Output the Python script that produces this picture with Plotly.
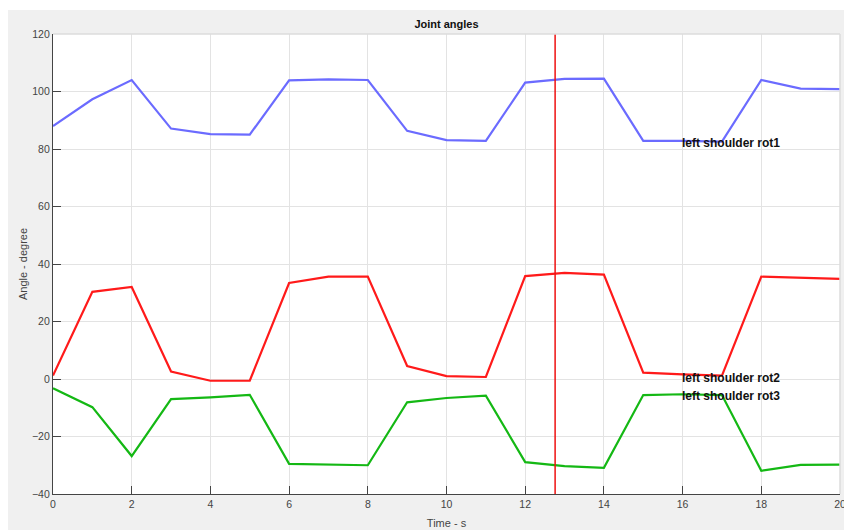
import plotly.graph_objects as go

time_s = list(range(0, 21))
rot1 = [88.0, 97.3, 104.0, 87.1, 85.2, 85.0, 103.9, 104.2, 104.0, 86.3, 83.1,
        82.8, 103.1, 104.4, 104.5, 82.8, 82.8, 82.6, 104.0, 101.0, 100.8]
rot2 = [1.2, 30.3, 32.0, 2.6, -0.6, -0.6, 33.4, 35.6, 35.6, 4.5, 1.0,
        0.7, 35.8, 36.9, 36.3, 2.2, 1.6, 1.2, 35.6, 35.2, 34.8]
rot3 = [-3.2, -9.8, -26.8, -7.0, -6.4, -5.5, -29.5, -29.8, -30.0, -8.1, -6.6,
        -5.8, -28.9, -30.3, -30.9, -5.6, -5.3, -5.6, -31.9, -29.9, -29.8]
series_names = ["left shoulder rot1", "left shoulder rot2", "left shoulder rot3"]
series_colors = ["#6b6bff", "#ff1a1a", "#14b814"]
label_x = 16
label_y = [82.0, 0.5, -5.8]
cursor_t = 12.76
x_ticks = list(range(0, 21, 2))
y_ticks = list(range(-40, 121, 20))

W, H = 844, 522
ML, MR, MT, MB = 45, 12, 26, 36
PW, PH = W - ML - MR, H - MT - MB

fig = go.Figure()
for vals, name, col in zip([rot1, rot2, rot3], series_names, series_colors):
    fig.add_trace(go.Scatter(x=time_s, y=vals, mode="lines", name=name,
                             line=dict(color=col, width=2.2)))

for name, ly in zip(series_names, label_y):
    fig.add_annotation(x=label_x, y=ly, text="<b>" + name + "</b>", showarrow=False,
                       xanchor="left", yanchor="middle", xshift=-3,
                       font=dict(family="Liberation Sans", size=12, color="#111111"))

# thin white strip at the very top
fig.add_shape(type="rect", xref="paper", yref="paper",
              x0=-ML / PW, x1=1 + MR / PW, y0=1 + (MT - 2) / PH, y1=1 + MT / PH,
              fillcolor="white", line=dict(width=0), layer="below")
# cursor line
fig.add_shape(type="line", xref="x", yref="paper", x0=cursor_t, x1=cursor_t, y0=0, y1=1,
              line=dict(color="#ee1111", width=1.5))
# light top/right border
fig.add_shape(type="line", xref="paper", yref="paper", x0=0, x1=1, y0=1, y1=1,
              line=dict(color="#dcdcdc", width=1.5))
fig.add_shape(type="line", xref="paper", yref="paper", x0=1, x1=1, y0=0, y1=1,
              line=dict(color="#dcdcdc", width=1.5))

axis_common = dict(showgrid=True, gridcolor="#e3e3e3", gridwidth=1, automargin=False,
                   zeroline=False, showline=True, linecolor="#444444", linewidth=1.2,
                   ticks="inside", ticklen=8, tickcolor="#444444", tickwidth=1.2,
                   tickfont=dict(family="Liberation Sans", size=10.5, color="#444444"))

fig.update_xaxes(range=[0, 20], tickvals=x_ticks, **axis_common,
                 title=dict(text="Time - s", standoff=10,
                            font=dict(family="Liberation Sans", size=11, color="#444444")))
fig.update_yaxes(range=[-40, 120], tickvals=y_ticks, **axis_common,
                 title=dict(text="Angle - degree", standoff=2,
                            font=dict(family="Liberation Sans", size=11, color="#444444")))

fig.update_layout(
    width=W, height=H,
    margin=dict(l=ML, r=MR, t=MT, b=MB, autoexpand=False),
    paper_bgcolor="#f0f0f0", plot_bgcolor="white",
    showlegend=False,
    title=dict(text="<b>Joint angles</b>", x=(ML + PW / 2) / W, xanchor="center",
               y=1 - 16 / H, yanchor="middle",
               font=dict(family="Liberation Sans", size=11, color="#111111")),
)

fig.write_html("out.html")
